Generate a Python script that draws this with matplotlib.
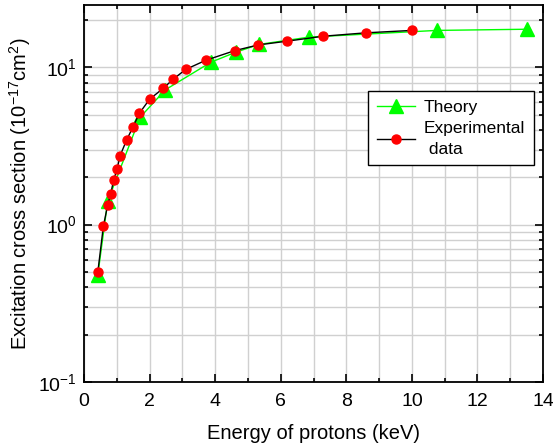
import matplotlib
matplotlib.use("Agg")
import matplotlib.pyplot as plt
from matplotlib.ticker import LogLocator, MultipleLocator, NullFormatter

plt.rcParams['font.family'] = ['Liberation Sans', 'DejaVu Sans']
plt.rcParams['mathtext.default'] = 'regular'
plt.rcParams['axes.unicode_minus'] = False

theory_E = [0.42, 0.72, 1.71, 2.48, 3.87, 4.63, 5.33, 6.87, 10.76, 13.5]
theory_sigma = [0.48, 1.41, 4.82, 7.21, 10.8, 12.5, 14.0, 15.6, 17.2, 17.5]

exp_E = [0.42, 0.59, 0.72, 0.81, 0.90, 1.01, 1.10, 1.30, 1.49, 1.69, 2.0, 2.41,
         2.71, 3.10, 3.71, 4.60, 5.31, 6.20, 7.30, 8.59, 10.0]
exp_sigma = [0.50, 0.98, 1.33, 1.56, 1.91, 2.27, 2.75, 3.46, 4.17, 5.12, 6.28, 7.35,
             8.39, 9.71, 11.1, 12.8, 13.9, 14.7, 15.8, 16.6, 17.2]

fig = plt.figure(figsize=(5.53, 4.44), dpi=100)
ax = fig.add_axes([0.152, 0.140, 0.830, 0.849])

ax.plot(theory_E, theory_sigma, color='#00ff00', lw=1.0, marker='^', ms=10,
        mfc='#00ff00', mec='#00ff00', label='Theory', zorder=3)
ax.plot(exp_E, exp_sigma, color='black', lw=1.0, marker='o', ms=6.5,
        mfc='red', mec='red', label='Experimental\n data', zorder=4)

ax.set_yscale('log')
ax.set_xlim(0, 14)
ax.set_ylim(0.1, 25)
ax.xaxis.set_major_locator(MultipleLocator(2))
ax.xaxis.set_minor_locator(MultipleLocator(1))
ax.yaxis.set_major_locator(LogLocator(base=10, numticks=10))
ax.yaxis.set_minor_locator(LogLocator(base=10, subs=range(2, 10), numticks=20))
ax.yaxis.set_minor_formatter(NullFormatter())

ax.grid(True, which='both', color='#d0d0d0', lw=1.0, zorder=0)
ax.set_axisbelow(True)

ax.tick_params(which='both', direction='in', top=True, right=True, labelsize=14, width=1.2)
ax.tick_params(axis='x', which='major', pad=8)
ax.tick_params(axis='y', which='major', pad=5)
ax.tick_params(which='major', length=6)
ax.tick_params(which='minor', length=3)
for s in ax.spines.values():
    s.set_linewidth(1.3)

ax.set_xlabel('Energy of protons (keV)', fontsize=14.5, labelpad=10)
ax.set_ylabel('Excitation cross section (10$^{-17}$cm$^{2}$)', fontsize=14.5, labelpad=4)

leg = ax.legend(loc='upper left', bbox_to_anchor=(0.619, 0.771), fontsize=12.5,
                frameon=True, fancybox=False, edgecolor='black', framealpha=1,
                handlelength=2.2, handletextpad=0.5, borderpad=0.5,
                labelspacing=0.35, borderaxespad=0)
leg.get_frame().set_linewidth(1.0)
leg.get_texts()[1].set_linespacing(1.45)

fig.savefig('out.png', dpi=100)
